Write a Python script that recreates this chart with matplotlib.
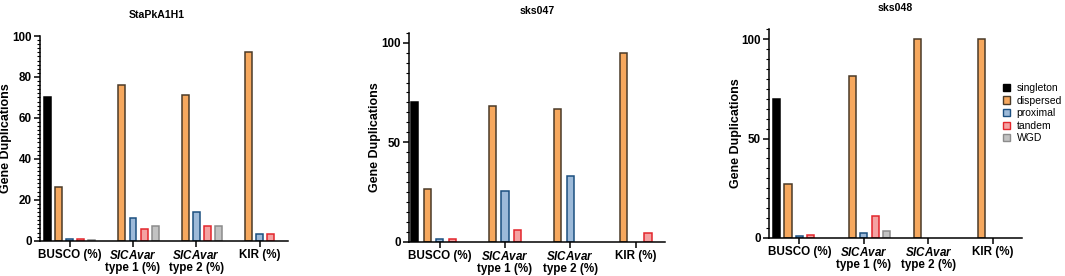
import matplotlib
matplotlib.use("Agg")
import matplotlib.pyplot as plt
import numpy as np
from matplotlib.ticker import MultipleLocator
from matplotlib.patches import Patch

plt.rcParams['font.family'] = ['Liberation Sans', 'DejaVu Sans']
plt.rcParams['mathtext.fontset'] = 'custom'
plt.rcParams['mathtext.bfit'] = 'Liberation Sans:italic:bold'
plt.rcParams['mathtext.bf'] = 'Liberation Sans:bold'

# ---------------- Dados ----------------
groups = ['BUSCO (%)', r'$\bfit{SICAvar}$' + '\ntype 1 (%)',
          r'$\bfit{SICAvar}$' + '\ntype 2 (%)', 'KIR (%)']
dup_types = ['singleton', 'dispersed', 'proximal', 'tandem', 'WGD']

titles = ['StaPkA1H1', 'sks047', 'sks048']

# valores por grupo (BUSCO, SICAvar1, SICAvar2, KIR)
sta_singleton = [70, 0, 0, 0]
sta_dispersed = [26, 76, 71, 92]
sta_proximal = [1.0, 11, 14, 3.5]
sta_tandem = [1.0, 5.5, 7, 3.5]
sta_wgd = [0.3, 7, 7, 0]

s47_singleton = [70, 0, 0, 0]
s47_dispersed = [26.5, 68, 66.5, 95]
s47_proximal = [1.3, 25.7, 33, 0]
s47_tandem = [1.3, 6, 0, 4.3]
s47_wgd = [0, 0, 0, 0]

s48_singleton = [70, 0, 0, 0]
s48_dispersed = [27, 81.5, 100, 100]
s48_proximal = [0.7, 2.2, 0, 0]
s48_tandem = [1.2, 11, 0, 0]
s48_wgd = [0, 3.5, 0, 0]

data = [
    [sta_singleton, sta_dispersed, sta_proximal, sta_tandem, sta_wgd],
    [s47_singleton, s47_dispersed, s47_proximal, s47_tandem, s47_wgd],
    [s48_singleton, s48_dispersed, s48_proximal, s48_tandem, s48_wgd],
]

faces = ['#000000', '#F6A85E', '#9DBAD9', '#F4A2A2', '#C2C2C2']
edges = ['#000000', '#4A3A28', '#1B4F80', '#E3262C', '#8C8C8C']

# posição dos eixos em pixels (esq, dir, baixo, topo), ylim topo, minor, pos título, ylabel x
W, H = 1065, 276
layout = [
    (40, 288, 240.7, 36.0, 100, 2, 0.472, 15, -0.112),
    (409, 665, 242.0, 32.7, 105, 5, 0.5, 11, -0.109),
    (769, 1022, 237.7, 29.4, 105, 5, 0.5, 8, -0.108),
]
offsets = [0.175, 0.19, 0.175]

fig = plt.figure(figsize=(W / 100, H / 100), dpi=100)
x = np.arange(len(groups))
bw = 0.11

for p, (l, r, b, t, ytop, minor, tx, ty, lx) in enumerate(layout):
    ax = fig.add_axes([l / W, 1 - b / H, (r - l) / W, (b - t) / H])
    for k in range(5):
        vals = np.array(data[p][k], dtype=float)
        vals[vals == 0] = np.nan   # sem barra onde o valor é zero
        ax.bar(x + (k - 2) * offsets[p], vals, width=bw,
               color=faces[k], edgecolor=edges[k], linewidth=1.1)
    ax.set_xlim(-0.47, 3.45)
    ax.set_ylim(0, ytop)
    ax.set_yticks([0, 20, 40, 60, 80, 100] if p == 0 else [0, 50, 100])
    ax.yaxis.set_minor_locator(MultipleLocator(minor))
    ax.set_xticks(x)
    ax.set_xticklabels(groups, fontsize=8.4, fontweight='bold', linespacing=1.0)
    ax.tick_params(axis='both', which='major', length=4, width=1.1, pad=2,
                   labelsize=8.4)
    ax.tick_params(axis='y', which='minor', length=2.2, width=0.8)
    for lab in ax.get_yticklabels():
        lab.set_fontweight('bold')
    for s in ['top', 'right']:
        ax.spines[s].set_visible(False)
    for s in ['left', 'bottom']:
        ax.spines[s].set_linewidth(1.1)
    ax.set_ylabel('Gene Duplications', fontsize=9, fontweight='bold')
    ax.yaxis.set_label_coords(lx, 0.5)
    fig.text((l + tx * (r - l)) / W, 1 - ty / H, titles[p], fontsize=7.6,
             fontweight='bold', ha='center', va='center')

handles = [Patch(facecolor=faces[k], edgecolor=edges[k], linewidth=1.0)
           for k in range(5)]
fig.legend(handles, dup_types, loc='upper left', bbox_to_anchor=(1003 / W, 1 - 83 / H),
           frameon=False, fontsize=7.5, handlelength=0.7, handleheight=0.7,
           handletextpad=0.6, labelspacing=0.25, borderpad=0, borderaxespad=0)

fig.savefig('out.png', dpi=100)
